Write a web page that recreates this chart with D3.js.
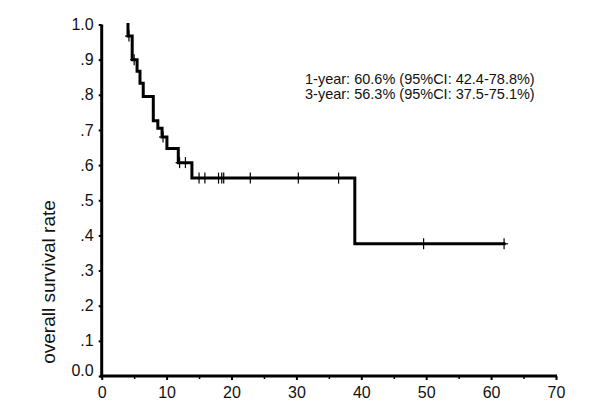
<!DOCTYPE html>
<html>
<head>
<meta charset="utf-8">
<script src="https://cdn.jsdelivr.net/npm/d3@7"></script>
<style>
  html, body { margin: 0; padding: 0; background: #fff; }
  svg { display: block; }
  text { font-family: "Liberation Sans", Arial, sans-serif; fill: #111; }
</style>
</head>
<body>
<script>
// ---- data ----
const startTime = 4.05;           // first plotted time, survival 1.0
const eventTimes = [4.05, 4.7, 5.45, 5.9, 6.4, 7.95, 8.65, 9.3, 10.05, 11.8, 13.9, 39.0];
const eventSurv  = [0.967, 0.900, 0.867, 0.833, 0.795, 0.726, 0.705, 0.680, 0.647, 0.607, 0.563, 0.376];
const censorTimes = [4.2, 5.0, 9.45, 12.0, 12.9, 15.0, 15.9, 18.0, 18.5, 18.8, 22.9, 30.3, 36.5, 49.6, 62.0];
const endTime = 62.0;
const xTicks = [0, 10, 20, 30, 40, 50, 60, 70];
const xMinorTicks = [5, 15, 25, 35, 45, 55, 65];
const yTicks = [0, 0.1, 0.2, 0.3, 0.4, 0.5, 0.6, 0.7, 0.8, 0.9, 1.0];
const yTickLabels = ["0.0", ".1", ".2", ".3", ".4", ".5", ".6", ".7", ".8", ".9", "1.0"];
const yAxisTitle = "overall survival rate";
const notes = ["1-year: 60.6% (95%CI: 42.4-78.8%)", "3-year: 56.3% (95%CI: 37.5-75.1%)"];

// ---- layout ----
const W = 600, H = 411;
const x = d3.scaleLinear().domain([0, 70]).range([101.7, 556]);
const y = d3.scaleLinear().domain([0, 1]).range([376, 24.5]);

const svg = d3.select("body").append("svg").attr("width", W).attr("height", H);

// survival function
function survAt(t) {
  let s = 1.0;
  for (let i = 0; i < eventTimes.length; i++) if (eventTimes[i] <= t) s = eventSurv[i];
  return s;
}

// step path
const pts = [[startTime, 1.0]];
eventTimes.forEach((t, i) => {
  const prev = pts[pts.length - 1][1];
  pts.push([t, prev]);
  pts.push([t, eventSurv[i]]);
});
pts.push([endTime, eventSurv[eventSurv.length - 1]]);

const line = d3.line().x(d => x(d[0])).y(d => y(d[1]));
svg.append("path").attr("d", line(pts))
  .attr("fill", "none").attr("stroke", "#000").attr("stroke-width", 3)
  .attr("stroke-linejoin", "miter").attr("stroke-linecap", "square");

// censor marks "+"
const cg = svg.append("g").attr("stroke", "#000").attr("stroke-width", 1.2);
censorTimes.forEach(t => {
  const cx = x(t), cy = y(survAt(t));
  cg.append("line").attr("x1", cx).attr("x2", cx).attr("y1", cy - 5.5).attr("y2", cy + 5.5);
  cg.append("line").attr("x1", cx - 4).attr("x2", cx + 4).attr("y1", cy).attr("y2", cy);
});

// axes
const xAxis = svg.append("g").attr("transform", `translate(0,${y(0)})`)
  .call(d3.axisBottom(x).tickValues(xTicks).tickSize(4).tickPadding(7).tickFormat(d3.format("d")));
xAxis.select(".domain").attr("stroke", "#000").attr("stroke-width", 3).attr("d", `M${x(0) - 1.5},0H${x(70) + 1}`);
xAxis.selectAll(".tick line").attr("stroke", "#000").attr("stroke-width", 2);
xAxis.selectAll(".tick text").attr("font-size", 16).attr("font-family", "Liberation Sans, Arial, sans-serif").attr("fill", "#111");
svg.append("g").attr("transform", `translate(0,${y(0)})`)
  .call(d3.axisBottom(x).tickValues(xMinorTicks).tickSize(3).tickFormat(""))
  .call(g => g.select(".domain").remove())
  .selectAll(".tick line").attr("stroke", "#000").attr("stroke-width", 1.5);

const yAxis = svg.append("g").attr("transform", `translate(${x(0)},0)`)
  .call(d3.axisLeft(y).tickValues(yTicks).tickSize(3).tickPadding(5)
    .tickFormat((d, i) => yTickLabels[i]));
yAxis.select(".domain").attr("stroke", "#000").attr("stroke-width", 3).attr("d", `M0,${y(1)}V${y(0) + 1.5}`);
yAxis.selectAll(".tick line").attr("stroke", "#000").attr("stroke-width", 2);
yAxis.selectAll(".tick text").attr("font-size", 16).attr("font-family", "Liberation Sans, Arial, sans-serif").attr("fill", "#111");
yAxis.selectAll(".tick text").filter(d => d === 0).attr("dy", "-0.05em");

// y title
svg.append("text").attr("transform", "translate(55,282) rotate(-90)")
  .attr("text-anchor", "middle").attr("font-size", 19).attr("fill", "#333").text(yAxisTitle);

// annotation
notes.forEach((s, i) => {
  svg.append("text").attr("x", 305).attr("y", 83.5 + i * 15.5)
    .attr("font-size", 14.5).text(s);
});
</script>
</body>
</html>
